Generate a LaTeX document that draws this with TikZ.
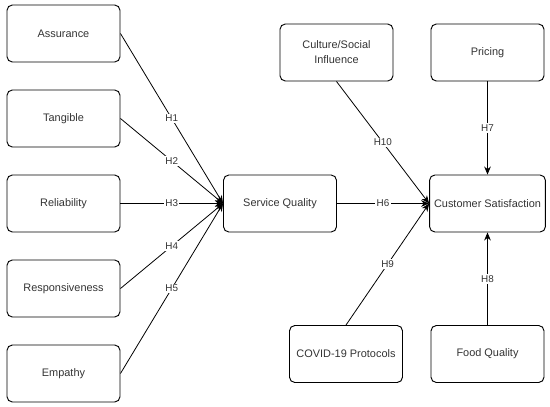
\documentclass[tikz,border=0pt]{standalone}
\usepackage{fontspec}
\setmainfont{Liberation Sans}
\usepackage{tikz}
\usetikzlibrary{arrows.meta}
\tikzset{factor/.style={draw, rounded corners=4pt, line width=0.7pt,
    minimum width=84.75pt, minimum height=42.75pt, align=center,
    font=\fontsize{8.2}{11.2}\selectfont, text=black!80},
  every edge/.style={draw, line width=0.6pt, -{Stealth[length=6pt,width=5pt]}},
  hyp/.style={fill=white, inner sep=1pt, font=\fontsize{7.4}{9}\selectfont, text=black!80}}

\begin{document}
\begin{tikzpicture}[x=0.75pt, y=-0.75pt]
  \useasboundingbox (0, 0) rectangle (550, 407);

  % service quality dimensions
  \foreach \name/\txt [count=\i] in {assur/Assurance, tang/Tangible, rel/Reliability,
      resp/Responsiveness, emp/Empathy} {
    \node[factor] (\name) at (63.5, 85*\i-51.5) {\txt};
  }
  \node[factor] (sq) at (280, 203.5) {Service Quality};

  \node[factor] (cult) at (336.5, 52.5) {Culture/Social\\Influence};
  \node[factor] (price) at (487.5, 52.5) {Pricing};
  \node[factor] (cs) at (487.5, 203.5) {Customer Satisfaction};
  \node[factor] (covid) at (346, 354) {COVID-19 Protocols};
  \node[factor] (food) at (487.5, 354) {Food Quality};

  \foreach \name [count=\i] in {assur, tang, rel, resp, emp} {
    \draw (\name.east) edge node[hyp] {H\i} (sq.west);
  }

  \draw (sq.east) edge node[hyp] {H6} (cs.west);
  \draw (price.south) edge node[hyp] {H7} (cs.north);
  \draw (food.north) edge node[hyp] {H8} (cs.south);
  \draw (covid.north) edge node[hyp] {H9} (cs.west);
  \draw (cult.south) edge node[hyp] {H10} (cs.west);
\end{tikzpicture}
\end{document}
